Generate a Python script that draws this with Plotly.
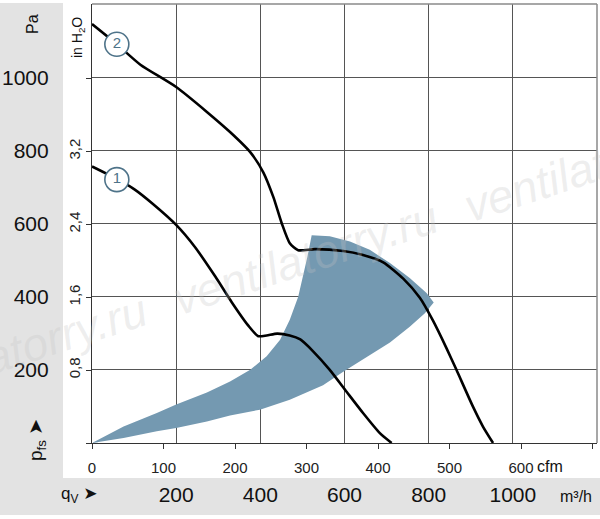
import plotly.graph_objects as go

PA_PER_INH2O = 249.089
M3H_PER_CFM = 1.69901

# characteristic curve 1 (m3/h, Pa)
q1 = [0, 59, 100, 142, 200, 245, 293, 332, 372, 395, 415, 440, 470, 495, 526, 565, 605, 644, 684, 712]
p1 = [756, 722, 694, 656, 596, 535, 455, 385, 320, 292, 294, 299, 294, 283, 250, 200, 140, 82, 27, 0]

# characteristic curve 2
q2 = [0, 59, 115, 200, 273, 328, 376, 407, 431, 451, 470, 490, 530, 597, 644, 692, 739, 779, 810, 842, 866, 905, 929, 953]
p2 = [1145, 1090, 1034, 973, 905, 850, 795, 740, 672, 600, 546, 527, 530, 525, 514, 494, 450, 397, 335, 260, 200, 100, 45, 0]

# recommended operating range (shaded)
area_q = [0, 75, 154, 200, 273, 328, 376, 415, 447, 470, 490, 503, 512, 522,
          565, 613, 660, 708, 755, 795, 812, 791,
          755, 708, 660, 629, 597, 549, 470, 399, 328, 273, 200, 154, 75, 0]
area_p = [0, 45, 82, 105, 138, 168, 200, 237, 282, 337, 400, 464, 510, 568,
          565, 551, 528, 492, 451, 410, 384, 355,
          318, 275, 240, 219, 195, 158, 118, 91, 75, 59, 41, 32, 14, 0]

curve_labels = ['1', '2']
label_q = [59, 59]
label_p = [720, 1090]

pa_ticks = [200, 400, 600, 800, 1000]
m3h_ticks = [200, 400, 600, 800, 1000]
cfm_ticks = [0, 100, 200, 300, 400, 500, 600, 700]
cfm_text = ['0', '100', '200', '300', '400', '500', '600', '']
inh2o_ticks = [0, 0.8, 1.6, 2.4, 3.2, 4.0]
inh2o_text = ['', '0,8', '1,6', '2,4', '3,2', '']

watermark = 'ventilatorry.ru'

W, H = 600, 519
L, R, T, B = 92, 3, 4, 76
PW, PH = W - L - R, H - T - B


def px(x):
    return (x - L) / PW


def py(y):
    return (H - B - y) / PH


FONT = 'Liberation Sans, Arial, sans-serif'
GREY = '#e3e3e3'
GRID = '#555555'

fig = go.Figure()

fig.add_trace(go.Scatter(
    x=area_q, y=area_p, mode='lines', fill='toself',
    fillcolor='#7499b1', line=dict(width=0), hoverinfo='skip'
))
for q, p in [(q1, p1), (q2, p2)]:
    fig.add_trace(go.Scatter(
        x=q, y=p, mode='lines',
        line=dict(color='black', width=2.6, shape='spline', smoothing=0.6)
    ))
fig.add_trace(go.Scatter(
    x=label_q, y=label_p, mode='markers+text', text=curve_labels,
    marker=dict(size=24, color='white', line=dict(color='#4e7389', width=1.6)),
    textfont=dict(family=FONT, size=15, color='#4e7389'),
    textposition='middle center'
))
# invisible trace so the secondary (cfm / in H2O) axes get drawn
fig.add_trace(go.Scatter(
    x=[0], y=[0], xaxis='x2', yaxis='y2', mode='markers',
    marker=dict(opacity=0), hoverinfo='skip'
))

fig.update_layout(
    width=W, height=H,
    margin=dict(l=L, r=R, t=T, b=B),
    paper_bgcolor='white', plot_bgcolor='white',
    showlegend=False,
    xaxis=dict(
        range=[0, 1200], tickvals=m3h_ticks, ticks='',
        showgrid=True, gridcolor=GRID, gridwidth=1,
        showline=True, linecolor='#333', linewidth=1.2,
        zeroline=False, fixedrange=True, automargin=False,
        tickfont=dict(family=FONT, size=21, color='#111'),
        ticklabelstandoff=33
    ),
    xaxis2=dict(
        range=[0, 1200 / M3H_PER_CFM], overlaying='x', side='bottom', anchor='y',
        tickvals=cfm_ticks, ticktext=cfm_text, ticks='outside', ticklen=5,
        tickcolor='#333', showgrid=False, zeroline=False, showline=False,
        automargin=False, fixedrange=True,
        tickfont=dict(family=FONT, size=15, color='#222'),
        ticklabelstandoff=6
    ),
    yaxis=dict(
        range=[0, 1200], tickvals=pa_ticks, ticks='',
        showgrid=True, gridcolor=GRID, gridwidth=1,
        showline=True, linecolor='#333', linewidth=1.2,
        zeroline=False, fixedrange=True, automargin=False,
        tickfont=dict(family=FONT, size=21, color='#111'),
        ticklabelstandoff=38
    ),
    yaxis2=dict(
        range=[0, 1200 / PA_PER_INH2O], overlaying='y', side='left', anchor='x',
        tickvals=inh2o_ticks, ticktext=inh2o_text, ticks='outside', ticklen=5,
        tickcolor='#333', showgrid=False, zeroline=False, showline=False,
        tickangle=-90, automargin=False, fixedrange=True,
        tickfont=dict(family=FONT, size=15, color='#222')
    ),
)

# grey label bands and the top/right frame
fig.add_shape(type='rect', xref='paper', yref='paper',
              x0=px(0), x1=px(63), y0=py(515), y1=py(3),
              fillcolor=GREY, line=dict(width=0), layer='below')
fig.add_shape(type='rect', xref='paper', yref='paper',
              x0=px(0), x1=px(600), y0=py(515), y1=py(478),
              fillcolor=GREY, line=dict(width=0), layer='below')
fig.add_shape(type='line', xref='paper', yref='paper', x0=0, x1=1, y0=1, y1=1,
              line=dict(color='#8a8a8a', width=1.5))
fig.add_shape(type='line', xref='paper', yref='paper', x0=1, x1=1, y0=0, y1=1,
              line=dict(color='#8a8a8a', width=1.5))


def label(text, x, y, size, angle=0):
    fig.add_annotation(text=text, x=px(x), y=py(y), xref='paper', yref='paper',
                       xanchor='center', yanchor='middle',
                       showarrow=False, textangle=angle,
                       font=dict(family=FONT, size=size, color='#111'))


label('Pa', 33, 24, 16, -90)
label('in H<sub>2</sub>O', 78, 38, 14, -90)
label('p<sub>fs</sub> <span style="font-family:DejaVu Sans">➤</span>', 36, 440, 19, -90)
label('q<sub>V</sub> <span style="font-family:DejaVu Sans">➤</span>', 79, 494, 17)
label('cfm', 550, 466, 16)
label('m³/h', 576, 496, 16)

for cx, cy in [(14, 351), (305, 258), (596, 165)]:
    fig.add_annotation(text='<i>' + watermark + '</i>', x=px(cx), y=py(cy),
                       xref='paper', yref='paper', xanchor='center', yanchor='middle',
                       showarrow=False, textangle=-18,
                       font=dict(family=FONT, size=46, style='italic',
                                 color='rgba(195,195,195,0.28)'))

fig.write_html('out.html', config={'displayModeBar': False},
               post_script="document.body.style.margin='0';"
                           "document.body.style.overflow='hidden';")
